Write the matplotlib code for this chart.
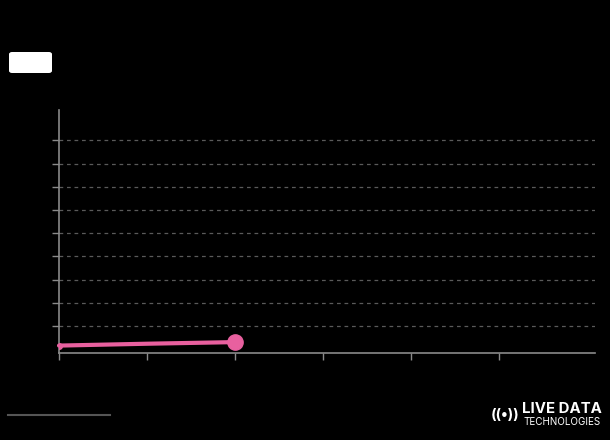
import matplotlib.pyplot as plt
from matplotlib.patches import FancyBboxPatch

# data
x_vals = [0, 1, 2]
y_vals = [0.16, 0.24, 0.31]
x_ticks = [0, 1, 2, 3, 4, 5]
y_ticks = [1, 2, 3, 4, 5, 6, 7, 8, 9]

pink = '#e8609f'
axis_col = '#8a8a8a'

fig = plt.figure(figsize=(6.1, 4.4), dpi=100, facecolor='black')
ax = fig.add_axes([0.0967, 0.1977, 0.8787, 0.5523], facecolor='black')

ax.plot(x_vals, y_vals, color=pink, linewidth=3, solid_capstyle='round', zorder=3, clip_on=False)
ax.plot(x_vals[-1], y_vals[-1], 'o', color=pink, markersize=11, zorder=4)
ax.plot(x_vals[0], y_vals[0], 'o', color=pink, markersize=4, zorder=4, clip_on=True)

ax.set_xlim(0, 6.09)
ax.set_ylim(-0.16, 10.31)
ax.set_xticks(x_ticks)
ax.set_yticks(y_ticks)
ax.set_xticklabels([])
ax.set_yticklabels([])
ax.grid(axis='y', color='#5a5a5a', linestyle=(0, (3, 3)), linewidth=0.9)
ax.tick_params(colors=axis_col, length=5, width=1)
for s in ['top', 'right']:
    ax.spines[s].set_visible(False)
for s in ['left', 'bottom']:
    ax.spines[s].set_color(axis_col)
    ax.spines[s].set_linewidth(1.2)

# white box top-left
box = FancyBboxPatch((9 / 610, 1 - 73 / 440), 43 / 610, 21 / 440,
                     boxstyle='round,pad=0,rounding_size=0.005',
                     transform=fig.transFigure, facecolor='white', edgecolor='none')
fig.patches.append(box)

# footer line
fig.add_artist(plt.Line2D([8 / 610, 110 / 610], [1 - 415 / 440, 1 - 415 / 440],
                          transform=fig.transFigure, color='#555555', linewidth=1.5))

# logo
fig.text(505 / 610, 1 - 415 / 440, '((•))', color='white', fontsize=10.5, fontweight='bold',
         ha='center', va='center', family='Inter')
fig.text(522 / 610, 1 - 409 / 440, 'LIVE DATA', color='white', fontsize=10.8,
         fontweight='bold', ha='left', va='center', family='Inter')
fig.text(523 / 610, 1 - 422 / 440, 'TECHNOLOGIES', color='white', fontsize=7.1,
         ha='left', va='center', family='Inter')

fig.savefig('out.png', dpi=100, facecolor='black')
